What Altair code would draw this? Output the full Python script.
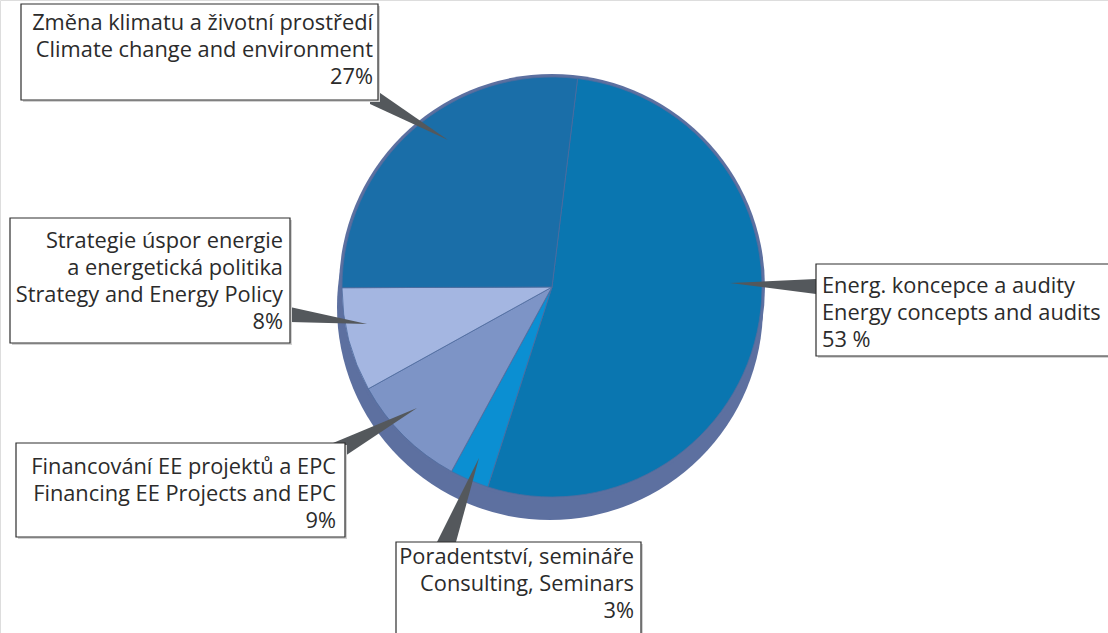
import math
import altair as alt
import pandas as pd

# ---------------- data ----------------
categories = ["Energy concepts", "Consulting", "Financing", "Strategy", "Climate"]
shares = [53, 3, 9, 8, 27]
slice_colors = ["#0a76b0", "#0b8fd2", "#7d94c6", "#a4b6e1", "#1a6ea8"]

label_lines = {
    "Energy concepts": ["Energ. koncepce a audity", "Energy concepts and audits", "53 %"],
    "Consulting": ["Poradentství, semináře", "Consulting, Seminars", "3%"],
    "Financing": ["Financování EE projektů a EPC", "Financing EE Projects and EPC", "9%"],
    "Strategy": ["Strategie úspor energie", "a energetická politika",
                 "Strategy and Energy Policy", "8%"],
    "Climate": ["Změna klimatu a životní prostředí", "Climate change and environment", "27%"],
}

# ---------------- layout (pixels) ----------------
W, H = 1108, 633
CX, CY, R = 552, 287, 210
START = math.radians(7)
LH = 27

boxes = {  # x1, y1, x2, y2, text x, first line centre y, align
    "Climate": (21, 4, 378, 100, 373, 23, "right"),
    "Strategy": (10, 218, 290, 343, 283, 241, "right"),
    "Energy concepts": (816, 264, 1112, 356, 822, 286, "left"),
    "Financing": (16, 443, 345, 537, 336, 467, "right"),
    "Consulting": (396, 542, 641, 640, 634, 557, "right"),
}

# pointer wedges: (id, x, y, y2) for vertical-sweep areas
ptr_v = [
    ("en", 730, 283, 283), ("en", 816, 279, 294),
    ("st", 290, 307, 322), ("st", 367, 324, 324),
    ("cl", 370, 86, 104), ("cl", 448, 140, 140),
    ("fi", 333, 443, 464), ("fi", 417, 408, 408),
]
# horizontal-sweep areas: (id, y, x, x2)
ptr_h = [("co", 458, 479, 479), ("co", 542, 437, 456)]

xs = alt.Scale(domain=[0, W], range=[0, W])
ys = alt.Scale(domain=[0, H], range=[0, H])

pie_df = pd.DataFrame({"cat": categories, "value": shares, "idx": range(len(categories))})

shadow = alt.Chart(pd.DataFrame({"a": [0]})).mark_arc(
    theta=0, theta2=2 * math.pi, radius=R + 3, color="#5d70a0"
).encode(x=alt.value(CX - 2), y=alt.value(CY + 20))

rim = alt.Chart(pd.DataFrame({"a": [0]})).mark_arc(
    theta=0, theta2=2 * math.pi, radius=R + 3, color="#5d70a0"
).encode(x=alt.value(CX), y=alt.value(CY))

pie = alt.Chart(pie_df).mark_arc(radius=R, stroke="#4f6c9e", strokeWidth=0.8).encode(
    x=alt.value(CX), y=alt.value(CY),
    theta=alt.Theta("value:Q", stack=True,
                    scale=alt.Scale(range=[START, START + 2 * math.pi])),
    color=alt.Color("cat:N", scale=alt.Scale(domain=categories, range=slice_colors), legend=None),
    order=alt.Order("idx:Q"),
)

pv = pd.DataFrame(ptr_v, columns=["id", "x", "y", "y2"])
ph = pd.DataFrame(ptr_h, columns=["id", "y", "x", "x2"])
pointers_v = alt.Chart(pv).mark_area(color="#54585c", orient="vertical").encode(
    x=alt.X("x:Q", scale=xs, axis=None), y=alt.Y("y:Q", scale=ys, axis=None), y2="y2:Q",
    detail="id:N",
)
pointers_h = alt.Chart(ph).mark_area(color="#54585c", orient="horizontal").encode(
    y=alt.Y("y:Q", scale=ys, axis=None), x=alt.X("x:Q", scale=xs, axis=None), x2="x2:Q",
    detail="id:N",
)

brows = []
trows = []
for cat, (x1, y1, x2, y2, tx, ty, al) in boxes.items():
    brows.append({"cat": cat, "x1": x1, "y1": y1, "x2": x2, "y2": y2,
                  "sx1": x1 + 2, "sy1": y1 + 2, "sx2": x2 + 2, "sy2": y2 + 2})
    for i, line in enumerate(label_lines[cat]):
        trows.append({"cat": cat, "text": line, "x": tx, "y": ty + i * LH, "align": al})
bdf = pd.DataFrame(brows)
tdf = pd.DataFrame(trows)

box_shadow = alt.Chart(bdf).mark_rect(color="#d2d2d2").encode(
    x=alt.X("sx1:Q", scale=xs, axis=None), x2="sx2:Q",
    y=alt.Y("sy1:Q", scale=ys, axis=None), y2="sy2:Q",
)
box = alt.Chart(bdf).mark_rect(fill="white", stroke="#2e2e2e", strokeWidth=1.2).encode(
    x=alt.X("x1:Q", scale=xs, axis=None), x2="x2:Q",
    y=alt.Y("y1:Q", scale=ys, axis=None), y2="y2:Q",
)

def text_layer(al):
    return alt.Chart(tdf[tdf["align"] == al]).mark_text(
        align=al, baseline="middle", font="Open Sans", fontSize=21.8, color="#2b2b2b"
    ).encode(
        x=alt.X("x:Q", scale=xs, axis=None), y=alt.Y("y:Q", scale=ys, axis=None),
        text="text:N",
    )

chart = alt.layer(
    shadow, rim, pie, pointers_v, pointers_h, box_shadow, box,
    text_layer("right"), text_layer("left"),
).properties(width=W, height=H, padding=0, autosize=alt.AutoSizeParams(type="none")
).configure_view(stroke=None).configure(background="white")

chart.save("out.html", embed_options={"renderer": "svg", "actions": False})
